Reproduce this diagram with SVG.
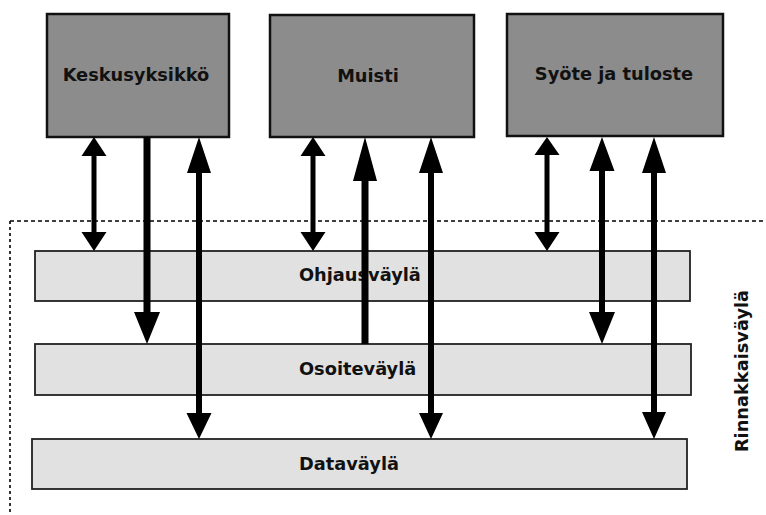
<svg xmlns="http://www.w3.org/2000/svg" width="766" height="515" viewBox="0 0 766 515">
<style>
.unit{fill:#8c8c8c;stroke:#111;stroke-width:2.5}
.bus{fill:#e1e1e1;stroke:#222;stroke-width:1.8}
.lbl{font-family:"DejaVu Sans",Verdana,sans-serif;font-weight:bold;font-size:17.8px;fill:#111}
.shaft{stroke:#000;fill:none}
.head{fill:#000}
.dot{stroke:#000;stroke-width:1.6;fill:none;stroke-dasharray:4 3}
</style>
<rect width="766" height="515" fill="#fff"/>
<g id="frame">
<path class="dot" d="M10 221 H766"/>
<path class="dot" d="M10 221 V512" style="stroke-dasharray:3 3"/>
<text class="lbl" transform="translate(748,371) rotate(-90)" text-anchor="middle">Rinnakkaisväylä</text>
</g>
<g id="ohjausvayla"><rect class="bus" x="35" y="251" width="655" height="50"/><text class="lbl" x="299" y="281">Ohjausväylä</text></g>
<g id="osoitevayla"><rect class="bus" x="35" y="344" width="656" height="51"/><text class="lbl" x="299" y="375">Osoiteväylä</text></g>
<g id="datavayla"><rect class="bus" x="32" y="439" width="655" height="50"/><text class="lbl" x="299" y="470">Dataväylä</text></g>
<g id="keskusyksikko"><rect class="unit" x="47" y="14" width="182" height="123"/><text class="lbl" x="136" y="81" text-anchor="middle">Keskusyksikkö</text></g>
<g id="muisti"><rect class="unit" x="270" y="15" width="204" height="122"/><text class="lbl" x="368" y="82" text-anchor="middle">Muisti</text></g>
<g id="syote"><rect class="unit" x="507" y="14" width="216" height="122"/><text class="lbl" x="614" y="80" text-anchor="middle">Syöte ja tuloste</text></g>
<g id="connectors">
<g><path class="shaft" stroke-width="5" d="M94 154 V234"/><path class="head" d="M94 137 L106.5 156 L81.5 156Z M94 251 L106.5 232 L81.5 232Z"/></g>
<g><path class="shaft" stroke-width="7" d="M147 137 V314"/><path class="head" d="M147 344 L160 312 L134 312Z"/></g>
<g><path class="shaft" stroke-width="6" d="M199 170 V416"/><path class="head" d="M199 137 L211 173 L187 173Z M199 439 L211.5 413 L186.5 413Z"/></g>
<g><path class="shaft" stroke-width="5" d="M313 154 V234"/><path class="head" d="M313 137 L325.5 156 L300.5 156Z M313 251 L325.5 232 L300.5 232Z"/></g>
<g><path class="shaft" stroke-width="7" d="M365 178 V344"/><path class="head" d="M365 137 L377 181 L353 181Z"/></g>
<g><path class="shaft" stroke-width="6" d="M431 170 V416"/><path class="head" d="M431 137 L443 173 L419 173Z M431 439 L443 413 L419 413Z"/></g>
<g><path class="shaft" stroke-width="5" d="M547 153 V234"/><path class="head" d="M547 137 L559.5 155 L534.5 155Z M547 251 L559.5 232 L534.5 232Z"/></g>
<g><path class="shaft" stroke-width="6" d="M602 168 V315"/><path class="head" d="M602 137 L614.5 171 L589.5 171Z M602 344 L615 312 L589 312Z"/></g>
<g><path class="shaft" stroke-width="6" d="M654 170 V415"/><path class="head" d="M654 137 L666 173 L642 173Z M654 439 L666 412 L642 412Z"/></g>
</g>
</svg>
